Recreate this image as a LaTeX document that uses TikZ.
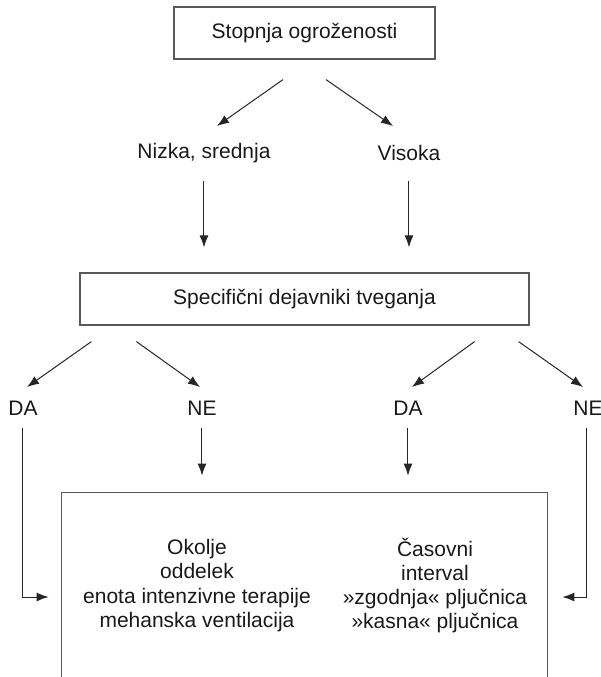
\documentclass[tikz,border=0pt]{standalone}
\usepackage{fontspec}
\setmainfont{Liberation Sans}
\usetikzlibrary{calc,arrows.meta}

\begin{document}
\begin{tikzpicture}[x=0.5pt,y=-0.5pt,
  lbl/.style={font=\fontsize{10.5}{12.15}\selectfont,text=black!90},
  box/.style={lbl,draw=black!65,line width=0.6pt,minimum width=#1,minimum height=26pt},
  boxline/.style={draw=black!65,line width=0.6pt},
  arr/.style={-{Latex[length=6pt,width=4.5pt]},line width=0.5pt,black!85}]
  \useasboundingbox (0,0) rectangle (601,677);

  % risk levels
  \node[box=130.5pt] (risk) at (304.5,33) {Stopnja ogroženosti};
  \node[lbl] (low) at (204,153) {Nizka, srednja};
  \node[lbl] (high) at (409,153) {Visoka};

  \draw[arr] ($(risk.south)+(-21.5,20)$) -- ($(low)+(13,-27)$);
  \draw[arr] ($(risk.south)+(21.5,20)$) -- ($(high)+(-16,-27)$);

  % specific risk factors
  \node[box=224.5pt] (factors) at (304.5,299) {Specifični dejavniki tveganja};

  \draw[arr] ($(low)+(0,28)$) -- ($(low |- factors.north)+(0,-25)$);
  \draw[arr] ($(high)+(0,28)$) -- ($(high |- factors.north)+(0,-25)$);

  \node[lbl] (yesL) at (23,408) {DA};
  \node[lbl] (noL) at (202,408) {NE};
  \node[lbl] (yesR) at (408,408) {DA};
  \node[lbl] (noR) at (588,408) {NE};

  \draw[arr] ($(factors.south west)+(12,16)$) -- ($(yesL)+(4,-21)$);
  \draw[arr] ($(factors.south west)+(57,16)$) -- ($(noL)+(-2,-21)$);
  \draw[arr] ($(factors.south east)+(-55,16)$) -- ($(yesR)+(4,-21)$);
  \draw[arr] ($(factors.south east)+(-11,16)$) -- ($(noR)+(-5,-21)$);

  % open box at the bottom
  \node[minimum width=242.5pt,minimum height=92pt,inner sep=0pt] (care) at (304.5,585) {};
  \draw[boxline] (care.south west) |- (care.north east) -- (care.south east);

  \node[lbl,align=center] (place) at (197,585.5)
    {Okolje\\oddelek\\enota intenzivne terapije\\mehanska ventilacija};
  \node[lbl,align=center] (time) at (435,585.5)
    {Časovni\\interval\\»zgodnja« pljučnica\\»kasna« pljučnica};

  \draw[arr] ($(noL)+(0,20)$) -- ($(noL |- care.north)+(0,-17)$);
  \draw[arr] ($(yesR)+(0,20)$) -- ($(yesR |- care.north)+(0,-17)$);
  \draw[arr] ($(yesL)+(0,20)$) |- ($(care.west)+(-13,12)$);
  \draw[arr] ($(noR)+(-1,20)$) |- ($(care.east)+(15,12)$);
\end{tikzpicture}
\end{document}
